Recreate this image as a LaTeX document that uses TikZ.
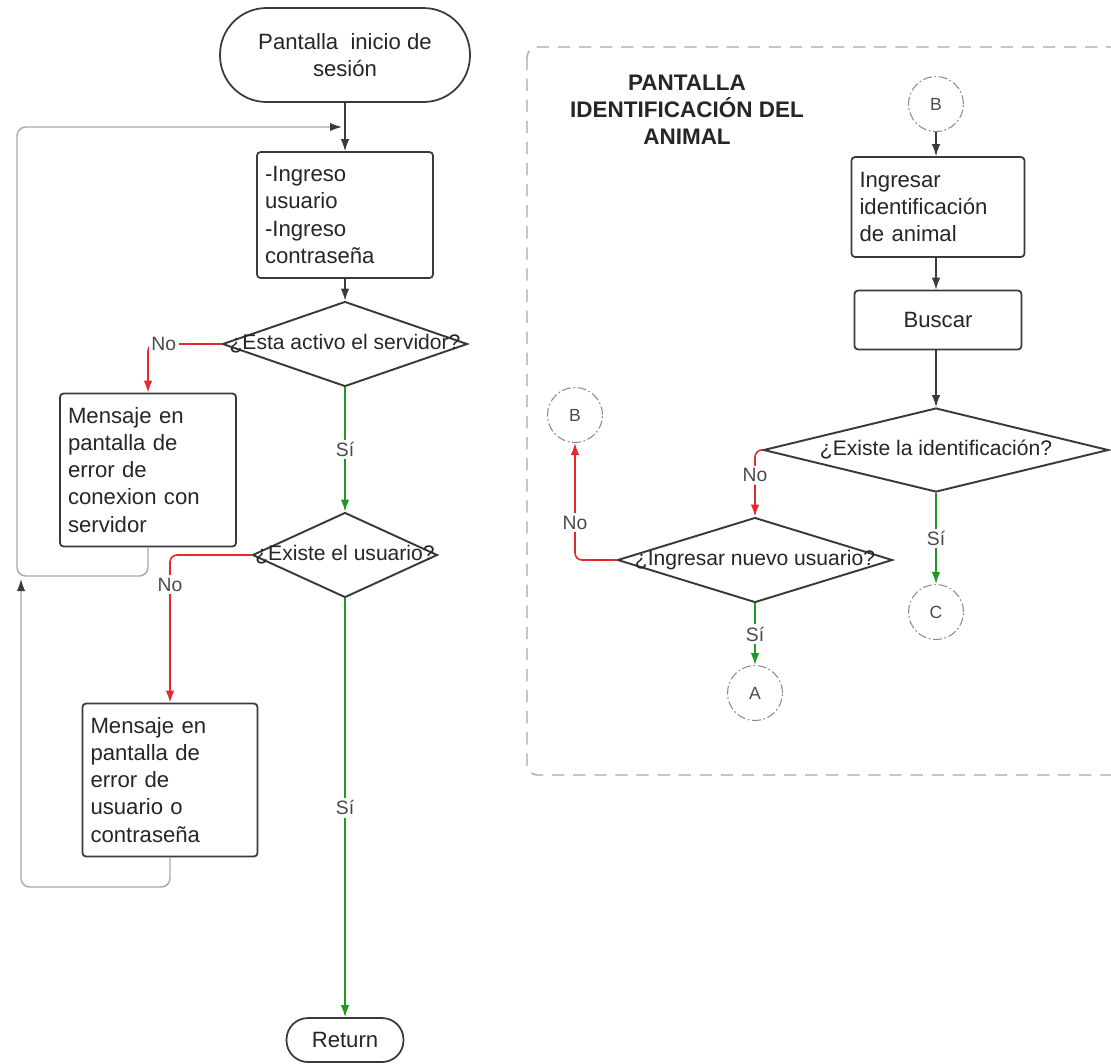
\documentclass[tikz,border=0pt]{standalone}
\usepackage{fontspec}
\setmainfont{Liberation Sans}
\usetikzlibrary{shapes.geometric,arrows.meta}
\definecolor{linec}{HTML}{3A3A3A}
\definecolor{backc}{HTML}{A8A8A8}
\definecolor{noc}{HTML}{E8262B}
\definecolor{sic}{HTML}{1E9A1E}
\definecolor{txtc}{HTML}{4A4A4A}
\begin{document}
\begin{tikzpicture}[x=0.02cm,y=-0.02cm,>={Latex[length=2.4mm,width=1.7mm]},
font=\fontsize{12}{15.4}\selectfont,text=black!85,
term/.style={draw=linec,line width=1pt,rectangle,inner sep=0pt,align=center},
box/.style={draw=linec,line width=1pt,rectangle,rounded corners=2pt,align=left,inner xsep=0.16cm,inner ysep=0pt,font=\fontsize{12.6}{15.4}\selectfont},
dia/.style={draw=linec,line width=1.1pt,diamond,inner sep=0pt},
conn/.style={draw=black!45,circle,line width=0.6pt,dash pattern=on 5pt off 1.5pt on 1pt off 1.5pt,minimum size=1.1cm,inner sep=0pt,font=\fontsize{10}{12}\selectfont,text=txtc},
flow/.style={->,draw=linec,line width=0.7pt},
back/.style={-{Latex[length=2.4mm,width=1.7mm,color=linec]},draw=backc,line width=0.8pt,rounded corners=5pt},
yes/.style={->,draw=sic,line width=0.9pt},
no/.style={->,draw=noc,line width=0.9pt,rounded corners=4pt},
lbl/.style={fill=white,inner sep=1.5pt,text=txtc,font=\fontsize{11}{13}\selectfont}]
\useasboundingbox (0,0) rectangle (1111,1063);
\clip (0,0) rectangle (1111,1063);
\fill[white] (0,0) rectangle (1111,1063);
\node[term,rounded corners=0.93cm,minimum width=5cm,minimum height=1.88cm,font=\fontsize{12.6}{15.4}\selectfont] (st) at (345,55) {Pantalla\ \ inicio de\\sesión};
\node[box,text width=3.2cm,minimum height=2.52cm] (b1) at (345,215) {-Ingreso\\usuario\\-Ingreso\\contraseña};
\node[dia,minimum width=4.9cm,minimum height=1.7cm] (d1) at (345,344) {};
\node (d1t) at (d1) {¿Esta activo el servidor?};
\node[box,text width=3.2cm,minimum height=3.06cm] (m1) at (148,470) {Mensaje en\\pantalla de\\error de\\conexion con\\servidor};
\node[dia,minimum width=3.7cm,minimum height=1.7cm] (d2) at (345,555) {};
\node (d2t) at (d2) {¿Existe el usuario?};
\node[box,text width=3.18cm,minimum height=3.06cm] (m2) at (170,780) {Mensaje en\\pantalla de\\error de\\usuario o\\contraseña};
\node[term,rounded corners=0.43cm,minimum width=2.34cm,minimum height=0.88cm,font=\fontsize{12.6}{15.4}\selectfont] (ret) at (345,1040) {Return};
\coordinate (j1) at (342,127);
\coordinate (j2) at (21,579);
\draw[flow] (st) -- (b1);
\draw[flow] (b1) -- (d1);
\draw[back] (m1.south) |- (17,576) |- (j1);
\draw[back] (m2.south) |- (21,887) -- (j2);
\draw[no] (d1.west) -| node[lbl,pos=0.5,anchor=west] (n1) {No} (m1.north);
\draw[yes] (d1.south) -- node[lbl] (s1) {Sí} (d2.north);
\draw[no] (d2.west) -| node[lbl,pos=0.6] (n2) {No} (m2.north);
\draw[yes] (d2.south) -- node[lbl] (s2) {Sí} (ret.north);
\draw[draw=backc,line width=0.8pt,dash pattern=on 7pt off 5pt,rounded corners=6pt] (527,47) rectangle (1140,775);
\node[font=\bfseries\fontsize{12.8}{15.4}\selectfont,align=center] (ttl) at (687,110) {PANTALLA\\IDENTIFICACIÓN DEL\\ANIMAL};
\node[conn] (cb1) at (936,104) {B};
\node[box,text width=3.14cm,minimum height=2cm] (b2) at (938,207) {Ingresar\\identificación\\de animal};
\node[box,align=center,text width=3.02cm,minimum height=1.18cm] (bus) at (938,320) {Buscar};
\node[dia,minimum width=6.9cm,minimum height=1.68cm] (d3) at (936,450) {};
\node (d3t) at (d3) {¿Existe la identificación?};
\node[conn] (cc) at (936,612) {C};
\node[dia,minimum width=5.5cm,minimum height=1.7cm] (d4) at (755,560) {};
\node (d4t) at (d4) {¿Ingresar nuevo usuario?};
\node[conn] (cb2) at (575,415) {B};
\node[conn] (ca) at (755,693) {A};
\draw[flow] (cb1) -- (cb1 |- b2.north);
\draw[flow] (cb1 |- b2.south) -- (cb1 |- bus.north);
\draw[flow] (cb1 |- bus.south) -- (d3.north);
\draw[no] (d3.west) -| node[lbl,pos=0.69] (n3) {No} (d4.north);
\draw[yes] (d3.south) -- node[lbl] (s3) {Sí} (cc);
\draw[no] (d4.west) -| node[lbl,pos=0.66] (n4) {No} (cb2);
\draw[yes] (d4.south) -- node[lbl] (s4) {Sí} (ca);
\end{tikzpicture}
\end{document}
